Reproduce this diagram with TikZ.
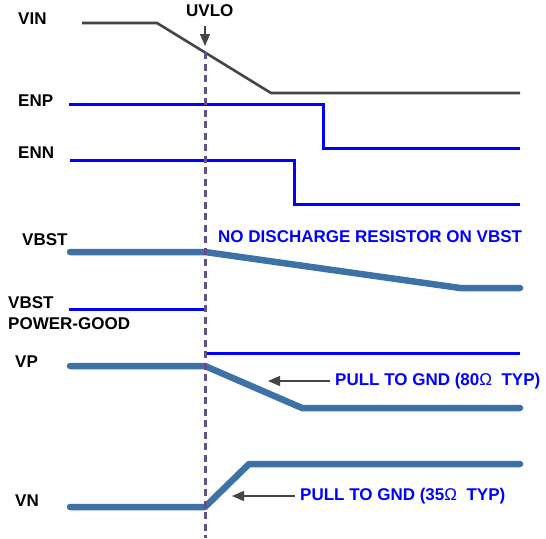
\documentclass[tikz,border=0pt]{standalone}
\usepackage{fontspec}
\setmainfont{Liberation Sans}
\usetikzlibrary{arrows.meta}
\definecolor{vinGray}{HTML}{454545}
\definecolor{sigBlue}{HTML}{0000FF}
\definecolor{railBlue}{HTML}{3E72A6}
\definecolor{markPurple}{HTML}{62508E}
\tikzstyle{siglabel} = [anchor=west, inner sep=0pt, font=\fontsize{17}{19}\selectfont\bfseries]
\tikzstyle{note} = [siglabel, text=sigBlue]
\tikzstyle{supply} = [vinGray, line width=2.6pt]
\tikzstyle{logic} = [sigBlue, line width=3pt]
\tikzstyle{rail} = [railBlue, line width=6.5pt, line cap=round, line join=round]
\tikzstyle{marker} = [markPurple, line width=3pt, dash pattern=on 7pt off 4.5pt]
\tikzstyle{arrow} = [vinGray, line width=1.1pt, -{Triangle[length=12pt,width=10pt]}]

\begin{document}
\begin{tikzpicture}[x=1pt,y=-1pt]
    \useasboundingbox (0,0) rectangle (546,538);

    % Nodes
    \node[siglabel] (vin) at (18,19) {VIN};
    \node[siglabel] (uvlo) at (186,11) {UVLO};
    \node[siglabel] (enp) at (18,101) {ENP};
    \node[siglabel] (enn) at (18,153) {ENN};
    \node[siglabel] (vbst) at (22,240) {VBST};
    \node[siglabel] (vbstpg) at (8,303) {VBST};
    \node[siglabel] (pg) at (8,324) {POWER-GOOD};
    \node[siglabel] (vp) at (15,362) {VP};
    \node[siglabel] (vn) at (15,501) {VN};
    \node[note] (nodis) at (218,237) {NO DISCHARGE RESISTOR ON VBST};
    \node[note] (pull80) at (335,381) {PULL TO GND (80{\mdseries Ω}\ \ TYP)};
    \node[note] (pull35) at (300,496) {PULL TO GND (35{\mdseries Ω}\ \ TYP)};

    \coordinate (uvloTip) at (205,46);
    \coordinate (vpTip) at (268,381);
    \coordinate (vnTip) at (232,496);

    % Waveforms
    \draw[supply] (82,23) -- (157,23) -- (271,93) -- (520,93);
    \draw[logic] (69,104) -- (323,104) -- (323,148) -- (520,148);
    \draw[logic] (70,160) -- (294,160) -- (294,204) -- (520,204);
    \draw[rail] (70,252) -- (205,252) -- (460,288) -- (520,288);
    \draw[logic] (69,309) -- (205,309);
    \draw[logic] (205,353) -- (520,353);
    \draw[rail] (70,366) -- (205,366) -- (302,408) -- (520,408);
    \draw[rail] (70,507) -- (205,507) -- (249,464) -- (520,464);

    \draw[marker] (205,52) -- (205,538);

    % Arrows
    \draw[arrow] (uvlo.south -| uvloTip) ++(0,9) -- (uvloTip);
    \draw[arrow, shorten <=5pt] (pull80.west) -- (vpTip);
    \draw[arrow, shorten <=5pt] (pull35.west) -- (vnTip);

\end{tikzpicture}
\end{document}
